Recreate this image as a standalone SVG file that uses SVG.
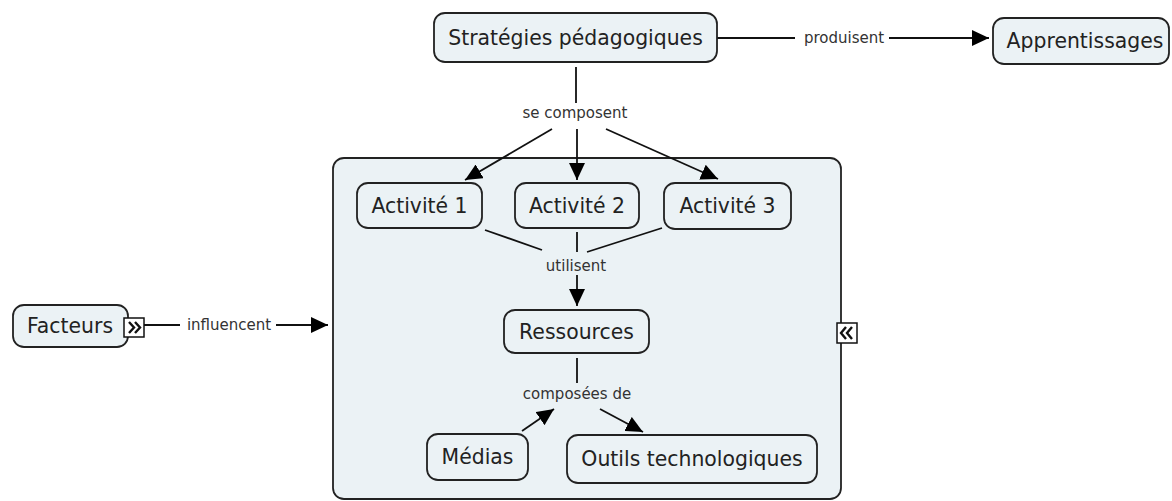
<svg xmlns="http://www.w3.org/2000/svg" width="1172" height="501" viewBox="0 0 1172 501">
<defs>
<style>
.node{fill:#ebf2f5;stroke:#222;stroke-width:1.8}
.cont{fill:#ebf2f5;stroke:#222;stroke-width:1.8}
.nt{font-family:"DejaVu Sans",Verdana,sans-serif;font-size:20.4px;fill:#222;text-anchor:middle}
.lt{font-family:"DejaVu Sans",Verdana,sans-serif;font-size:15px;fill:#333;text-anchor:middle}
.ln{stroke:#111;stroke-width:1.8;fill:none}
.icon{fill:#fff;stroke:#111;stroke-width:1.5}
.chev{fill:none;stroke:#111;stroke-width:2.4}
</style>
<marker id="arr" markerUnits="userSpaceOnUse" markerWidth="20" markerHeight="16" refX="17" refY="8" orient="auto">
<path d="M0,0 L17,8 L0,16 Z" fill="#000"/>
</marker>
</defs>
<rect width="1172" height="501" fill="#fff"/>
<g id="container">
<rect class="cont" x="333" y="158" width="508" height="341" rx="11"/>
<g id="collapse-icon">
<rect class="icon" x="837" y="323" width="20" height="20"/>
<polyline class="chev" points="846,327 841,333 846,339"/>
<polyline class="chev" points="852,327 847,333 852,339"/>
</g>
</g>
<g id="connectors">
<line class="ln" x1="717" y1="38" x2="795" y2="38"/>
<line class="ln" x1="889" y1="38" x2="989" y2="38" marker-end="url(#arr)"/>
<line class="ln" x1="576" y1="67" x2="576" y2="103"/>
<line class="ln" x1="552" y1="129" x2="465" y2="180" marker-end="url(#arr)"/>
<line class="ln" x1="577" y1="129" x2="577" y2="180" marker-end="url(#arr)"/>
<line class="ln" x1="606" y1="129" x2="718" y2="179" marker-end="url(#arr)"/>
<line class="ln" x1="485" y1="230" x2="542" y2="250"/>
<line class="ln" x1="577" y1="232" x2="577" y2="252"/>
<line class="ln" x1="662" y1="228" x2="587" y2="252"/>
<line class="ln" x1="577" y1="275" x2="577" y2="306" marker-end="url(#arr)"/>
<line class="ln" x1="577" y1="358" x2="577" y2="383"/>
<line class="ln" x1="522" y1="431" x2="554" y2="409" marker-end="url(#arr)"/>
<line class="ln" x1="600" y1="409" x2="643" y2="432" marker-end="url(#arr)"/>
<line class="ln" x1="144" y1="325" x2="180" y2="325"/>
<line class="ln" x1="276" y1="325" x2="328" y2="325" marker-end="url(#arr)"/>
<text class="lt" x="844" y="43">produisent</text>
<text class="lt" x="575" y="118">se composent</text>
<text class="lt" x="576" y="271">utilisent</text>
<text class="lt" x="577" y="399">composées de</text>
<text class="lt" x="229" y="330">influencent</text>
</g>
<g id="strategies">
<rect class="node" x="434" y="13" width="283" height="49" rx="11"/>
<text class="nt" x="575.5" y="44.5">Stratégies pédagogiques</text>
</g>
<g id="apprentissages">
<rect class="node" x="993" y="18" width="176" height="46" rx="11"/>
<text class="nt" x="1085" y="48">Apprentissages</text>
</g>
<g id="facteurs">
<rect class="node" x="13" y="305" width="115" height="42" rx="11"/>
<text class="nt" x="70" y="333">Facteurs</text>
<g id="expand-icon">
<rect class="icon" x="124" y="318" width="20" height="19"/>
<polyline class="chev" points="129,322 134,327.5 129,333"/>
<polyline class="chev" points="135,322 140,327.5 135,333"/>
</g>
</g>
<g id="activite1">
<rect class="node" x="357" y="183" width="125" height="45" rx="11"/>
<text class="nt" x="419.5" y="212.5">Activité 1</text>
</g>
<g id="activite2">
<rect class="node" x="515" y="183" width="124" height="45" rx="11"/>
<text class="nt" x="577" y="212.5">Activité 2</text>
</g>
<g id="activite3">
<rect class="node" x="664" y="183" width="127" height="46" rx="11"/>
<text class="nt" x="727.5" y="213">Activité 3</text>
</g>
<g id="ressources">
<rect class="node" x="504" y="310" width="145" height="43" rx="11"/>
<text class="nt" x="576.5" y="338.5">Ressources</text>
</g>
<g id="medias">
<rect class="node" x="427" y="434" width="101" height="46" rx="11"/>
<text class="nt" x="477.5" y="464">Médias</text>
</g>
<g id="outils">
<rect class="node" x="567" y="435" width="250" height="48" rx="11"/>
<text class="nt" x="692" y="466">Outils technologiques</text>
</g>
</svg>
